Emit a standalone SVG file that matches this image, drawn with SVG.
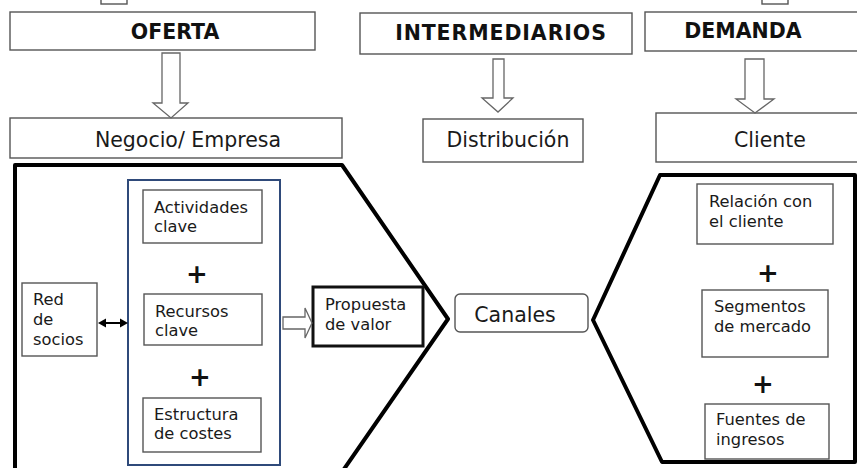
<svg xmlns="http://www.w3.org/2000/svg" width="857" height="468" viewBox="0 0 857 468">
<style>
.box{fill:#fff;stroke:#555;stroke-width:1.4}
.hdr{font-family:"DejaVu Sans","Verdana",sans-serif;font-weight:bold;font-size:20.5px;fill:#111;text-anchor:middle}
.lbl{font-family:"DejaVu Sans","Verdana",sans-serif;font-size:20.5px;fill:#1a1a1a;text-anchor:middle}
.sm{font-family:"DejaVu Sans","Verdana",sans-serif;font-size:16.3px;fill:#1a1a1a}
.plus{font-family:"DejaVu Sans",sans-serif;font-weight:bold;font-size:26px;fill:#111;text-anchor:middle}
.barrow{fill:#fff;stroke:#666;stroke-width:1.3;stroke-linejoin:miter}
.thick{fill:none;stroke:#000;stroke-width:4;stroke-linejoin:round}
</style>
<rect width="857" height="468" fill="#fff"/>

<g id="top-fragments">
<rect x="101" y="-6" width="26" height="10" class="box"/>
<rect x="762" y="-6" width="26" height="10" class="box"/>
</g>

<g id="oferta"><rect x="10" y="12" width="305" height="38" class="box"/><text x="175" y="39" class="hdr">OFERTA</text></g>
<g id="intermediarios"><rect x="360" y="13" width="272" height="41" class="box"/><text x="501" y="40" class="hdr" letter-spacing="0.9">INTERMEDIARIOS</text></g>
<g id="demanda"><rect x="645" y="12" width="220" height="39" class="box"/><text x="743" y="38" class="hdr">DEMANDA</text></g>

<g id="negocio"><rect x="10" y="118" width="332" height="40" class="box"/><text x="188" y="147" class="lbl">Negocio/ Empresa</text></g>
<g id="distribucion"><rect x="423" y="119" width="160" height="43" class="box"/><text x="508" y="147" class="lbl">Distribución</text></g>
<g id="cliente"><rect x="656" y="113" width="210" height="49" class="box"/><text x="770" y="147" class="lbl">Cliente</text></g>

<g id="shapes">
<path class="thick" d="M15,165 L342,165 L448,319 L342,472 L15,472 Z"/>
<path class="thick" d="M660,175 L855,175 L855,462 L662,462 L593,320 Z"/>
<rect x="128" y="180" width="152" height="285" fill="none" stroke="#2f4a7a" stroke-width="2"/>
</g>

<g id="actividades"><rect x="143" y="190" width="119" height="53" class="box"/><text class="sm" x="154" y="213">Actividades</text><text class="sm" x="154" y="232">clave</text></g>
<text class="plus" x="197" y="283">+</text>
<g id="recursos"><rect x="144" y="294" width="118" height="51" class="box"/><text class="sm" x="155" y="317">Recursos</text><text class="sm" x="155" y="336">clave</text></g>
<text class="plus" x="200" y="386">+</text>
<g id="estructura"><rect x="143" y="398" width="118" height="54" class="box"/><text class="sm" x="154" y="420">Estructura</text><text class="sm" x="154" y="439">de costes</text></g>

<g id="red-socios"><rect x="22" y="283" width="75" height="73" class="box"/><text class="sm" x="33" y="305">Red</text><text class="sm" x="33" y="325">de</text><text class="sm" x="33" y="345">socios</text></g>

<g id="propuesta"><rect x="313" y="287" width="110" height="59" fill="#fff" stroke="#111" stroke-width="3"/><text class="sm" x="325" y="310">Propuesta</text><text class="sm" x="325" y="330">de valor</text></g>

<g id="canales"><rect x="455" y="294" width="133" height="38" rx="5" class="box"/><text x="515" y="322" class="lbl" font-size="20px">Canales</text></g>

<g id="relacion"><rect x="697" y="184" width="136" height="60" class="box"/><text class="sm" x="709" y="207">Relación con</text><text class="sm" x="709" y="227">el cliente</text></g>
<text class="plus" x="768" y="282">+</text>
<g id="segmentos"><rect x="702" y="290" width="126" height="67" class="box"/><text class="sm" x="714" y="312">Segmentos</text><text class="sm" x="714" y="332">de mercado</text></g>
<text class="plus" x="763" y="393">+</text>
<g id="fuentes"><rect x="705" y="404" width="124" height="55" class="box"/><text class="sm" x="716" y="425">Fuentes de</text><text class="sm" x="716" y="445">ingresos</text></g>

<g id="connectors">
<polygon class="barrow" points="162,53 180,53 180,103 188,103 171,118 153,103 162,103"/>
<polygon class="barrow" points="493,59 504,59 504,98 513,98 498,112 482,98 493,98"/>
<polygon class="barrow" points="745,59 764,59 764,99 774,99 755,113 736,99 745,99"/>
<polygon class="barrow" points="283,317 305,317 305,308 312,323 305,338 305,329 283,329"/>
<line x1="104" y1="323" x2="122" y2="323" stroke="#000" stroke-width="2"/>
<polygon points="98,323 106,318.5 106,327.5" fill="#000"/>
<polygon points="128,323 120,318.5 120,327.5" fill="#000"/>
</g>
</svg>
